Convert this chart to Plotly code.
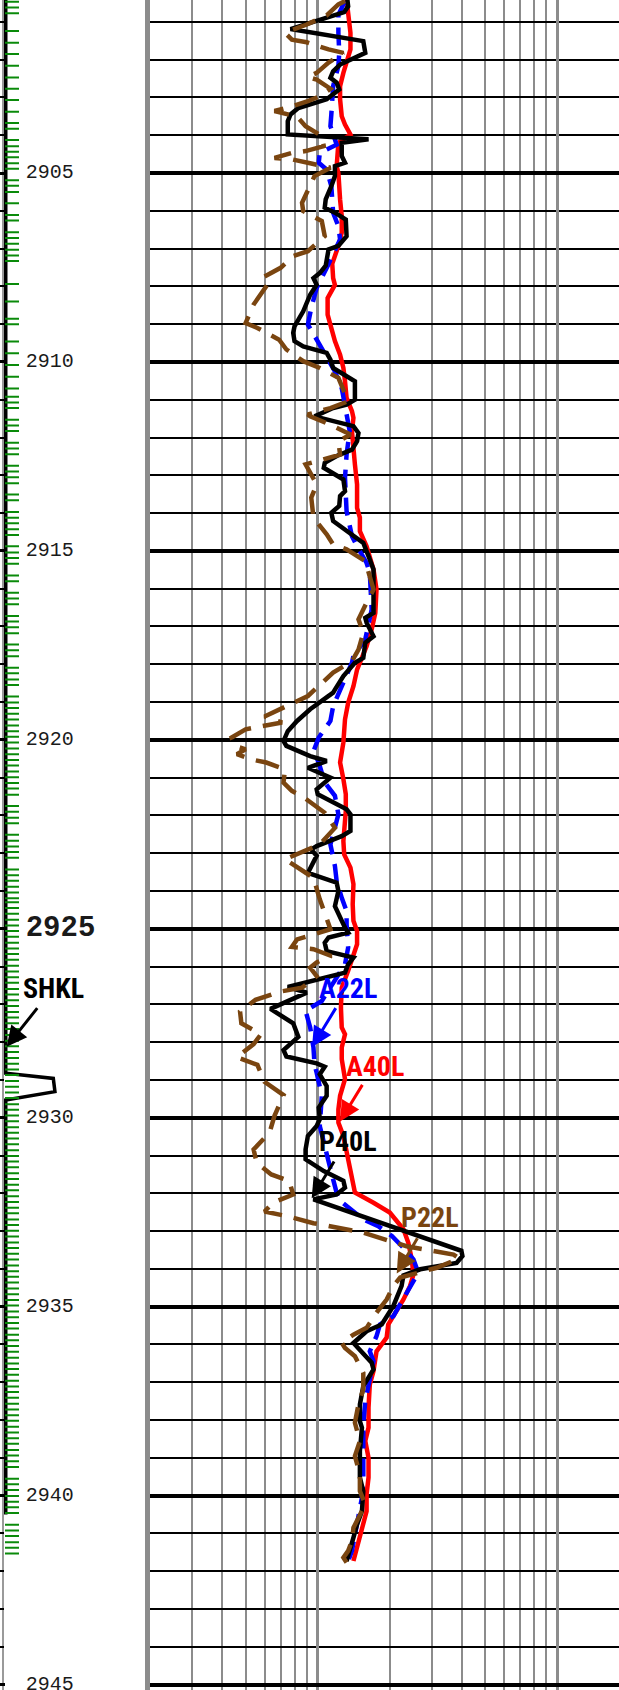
import math
import plotly.graph_objects as go

# ---------------- log curves (depth in m, resistivity in ohm.m) ----------------
a40l_depth = [2900.41, 2900.76, 2901.29, 2901.73, 2902.04, 2902.35, 2902.70, 2903.05, 2903.50, 2903.72,
              2903.98, 2904.20, 2904.82, 2905.00, 2905.70, 2906.14, 2906.58, 2906.93, 2907.40, 2907.78,
              2907.96, 2908.31, 2908.75, 2909.10, 2909.45, 2909.81, 2910.16, 2910.51, 2910.95, 2911.30,
              2911.48, 2911.83, 2912.36, 2912.71, 2913.24, 2913.86, 2914.12, 2914.48, 2914.88, 2915.49,
              2916.02, 2916.64, 2917.08, 2917.52, 2918.14, 2918.58, 2919.02, 2919.46, 2920.07, 2920.60,
              2921.04, 2921.44, 2921.89, 2922.33, 2922.68, 2923.03, 2923.38, 2923.82, 2924.35, 2924.79,
              2925.06, 2925.41, 2925.85, 2926.11, 2926.56, 2927.08, 2927.61, 2927.79, 2928.14, 2928.45,
              2928.98, 2929.42, 2929.78, 2930.13, 2930.48, 2930.92, 2931.37, 2931.98, 2932.25, 2932.51,
              2932.95, 2933.31, 2933.75, 2934.15, 2934.45, 2934.81, 2935.25, 2935.47, 2935.82, 2936.18,
              2936.70, 2937.06, 2937.67, 2938.20, 2938.55, 2939.00, 2939.52, 2939.96, 2940.41, 2940.76,
              2941.11, 2941.46, 2941.73]
a40l_val = [1.32, 1.34, 1.37, 1.37, 1.32, 1.28, 1.24, 1.24, 1.26, 1.30,
            1.37, 1.22, 1.20, 1.22, 1.24, 1.26, 1.26, 1.22, 1.15, 1.16,
            1.18, 1.10, 1.10, 1.14, 1.18, 1.24, 1.28, 1.30, 1.32, 1.39,
            1.41, 1.39, 1.41, 1.43, 1.46, 1.46, 1.50, 1.50, 1.60, 1.71,
            1.76, 1.74, 1.68, 1.60, 1.46, 1.41, 1.34, 1.30, 1.28, 1.24,
            1.28, 1.31, 1.31, 1.30, 1.28, 1.29, 1.37, 1.41, 1.40, 1.41,
            1.46, 1.46, 1.39, 1.34, 1.26, 1.25, 1.26, 1.30, 1.26, 1.26,
            1.30, 1.24, 1.22, 1.22, 1.28, 1.32, 1.37, 1.43, 1.71, 2.00,
            2.28, 2.39, 2.47, 2.51, 2.43, 2.28, 2.07, 1.97, 1.94, 1.76,
            1.71, 1.65, 1.63, 1.63, 1.58, 1.63, 1.63, 1.60, 1.60, 1.55,
            1.50, 1.46, 1.41]

a22l_depth = [2900.45, 2900.81, 2901.29, 2901.82, 2902.17, 2902.70, 2903.45, 2903.76, 2904.25, 2904.47,
              2904.73, 2904.91, 2905.35, 2906.05, 2906.41, 2906.76, 2907.46, 2907.78, 2908.04, 2908.57,
              2909.01, 2909.50, 2909.89, 2910.25, 2910.69, 2911.48, 2911.83, 2912.45, 2913.07, 2913.95,
              2914.39, 2914.61, 2914.88, 2915.32, 2915.58, 2916.55, 2917.34, 2917.78, 2917.96, 2918.67,
              2919.11, 2919.50, 2919.94, 2920.30, 2920.60, 2921.13, 2921.48, 2921.97, 2922.50, 2922.77,
              2923.34, 2923.74, 2924.18, 2924.53, 2924.88, 2925.50, 2925.94, 2926.30, 2926.91, 2927.17,
              2927.61, 2928.14, 2928.59, 2928.81, 2929.20, 2929.42, 2930.22, 2931.01, 2931.45, 2932.16,
              2932.38, 2932.69, 2932.87, 2933.13, 2933.48, 2933.75, 2934.10, 2934.63, 2935.25, 2935.47,
              2935.78, 2936.18, 2936.44, 2937.50, 2938.11, 2939.17, 2939.52, 2940.05, 2940.76, 2941.46,
              2941.73]
a22l_val = [1.30, 1.22, 1.22, 1.23, 1.22, 1.16, 1.14, 1.13, 1.20, 1.02,
            1.01, 1.09, 1.14, 1.16, 1.22, 1.24, 1.10, 1.04, 0.99, 0.94,
            0.91, 1.01, 1.09, 1.18, 1.26, 1.32, 1.36, 1.32, 1.30, 1.32,
            1.37, 1.39, 1.46, 1.60, 1.65, 1.68, 1.58, 1.41, 1.39, 1.24,
            1.16, 1.13, 1.01, 0.96, 1.01, 1.07, 1.18, 1.22, 1.16, 1.13,
            1.18, 1.20, 1.26, 1.32, 1.32, 1.34, 1.30, 1.20, 1.04, 0.89,
            0.93, 0.96, 0.97, 0.99, 1.02, 1.04, 1.02, 1.09, 1.14, 1.22,
            1.34, 1.55, 1.79, 2.04, 2.31, 2.51, 2.63, 2.35, 2.07, 1.82,
            1.76, 1.65, 1.71, 1.58, 1.55, 1.55, 1.55, 1.53, 1.46, 1.39,
            1.34]

p40l_depth = [2900.41, 2900.59, 2900.74, 2901.19, 2901.51, 2901.82, 2902.13, 2902.31, 2902.48, 2902.61,
              2902.79, 2903.05, 2903.28, 2903.45, 2903.63, 2903.98, 2904.11, 2904.20, 2904.55, 2904.73,
              2904.82, 2905.08, 2905.35, 2905.70, 2905.92, 2906.05, 2906.23, 2906.67, 2906.93, 2907.02,
              2907.45, 2907.65, 2907.78, 2907.96, 2908.22, 2908.66, 2909.06, 2909.23, 2909.45, 2909.59,
              2909.76, 2909.94, 2910.16, 2910.51, 2911.00, 2911.13, 2911.22, 2911.44, 2911.70, 2911.88,
              2912.10, 2912.32, 2912.49, 2912.67, 2912.80, 2913.11, 2913.42, 2913.55, 2913.81, 2913.99,
              2914.21, 2914.48, 2914.79, 2915.14, 2915.49, 2916.64, 2916.77, 2916.90, 2917.26, 2917.43,
              2917.83, 2917.96, 2918.31, 2918.67, 2918.75, 2919.19, 2919.50, 2919.77, 2920.03, 2920.16,
              2920.43, 2920.56, 2920.74, 2921.00, 2921.31, 2921.44, 2921.84, 2921.97, 2922.41, 2922.55,
              2922.81, 2922.90, 2923.07, 2923.52, 2923.60, 2923.78, 2924.00, 2924.40, 2924.97, 2925.10,
              2925.23, 2925.37, 2925.59, 2925.76, 2925.94, 2926.16, 2926.54, 2926.69, 2927.12, 2927.50,
              2927.86, 2928.21, 2928.38, 2928.56, 2928.65, 2928.85, 2929.16, 2929.42, 2929.73, 2930.04,
              2930.22, 2930.48, 2930.84, 2931.10, 2931.41, 2931.67, 2931.85, 2932.03, 2932.16, 2933.52,
              2933.66, 2933.84, 2934.01, 2934.17, 2934.45, 2934.98, 2935.47, 2935.65, 2935.96, 2936.22,
              2936.48, 2936.66, 2936.88, 2937.10, 2937.59, 2938.03, 2938.20, 2938.82, 2939.52, 2939.88,
              2940.41, 2940.76, 2941.11, 2941.55, 2941.73]
p40l_val = [1.33, 1.34, 1.29, 0.77, 1.55, 1.58, 1.24, 1.16, 1.13, 1.20,
            1.23, 1.09, 0.83, 0.77, 0.75, 0.75, 1.63, 1.26, 1.26, 1.30,
            1.18, 1.18, 1.14, 1.08, 1.07, 1.18, 1.31, 1.32, 1.22, 1.11,
            1.08, 1.02, 0.96, 0.99, 0.93, 0.87, 0.80, 0.79, 0.80, 0.87,
            1.09, 1.13, 1.16, 1.43, 1.43, 1.32, 1.16, 0.97, 1.41, 1.48,
            1.46, 1.39, 1.20, 1.07, 1.06, 1.28, 1.30, 1.24, 1.23, 1.14,
            1.16, 1.33, 1.55, 1.63, 1.71, 1.71, 1.58, 1.60, 1.71, 1.58,
            1.55, 1.43, 1.28, 1.18, 1.16, 0.93, 0.82, 0.75, 0.72, 0.74,
            0.93, 1.09, 0.91, 1.13, 0.99, 1.00, 1.32, 1.37, 1.37, 1.26,
            0.99, 0.94, 0.99, 0.91, 0.99, 1.20, 1.22, 1.18, 1.30, 1.34,
            1.11, 1.07, 1.09, 1.41, 1.34, 1.30, 0.75, 0.90, 0.635, 0.79,
            0.83, 0.72, 0.74, 0.99, 1.07, 1.02, 1.09, 1.09, 1.01, 1.02,
            0.99, 0.91, 0.89, 0.89, 1.06, 1.28, 1.30, 1.20, 0.96, 3.98,
            4.02, 3.80, 2.68, 2.28, 2.24, 2.07, 1.85, 1.60, 1.41, 1.55,
            1.68, 1.71, 1.63, 1.55, 1.50, 1.50, 1.53, 1.50, 1.50, 1.55,
            1.53, 1.46, 1.41, 1.34, 1.32]

p22l_depth = [2900.45, 2900.54, 2900.83, 2901.07, 2901.29, 2901.47, 2901.54, 2901.73, 2901.82, 2902.08,
              2902.35, 2902.46, 2902.53, 2902.77, 2902.97, 2903.10, 2903.28, 2903.36, 2903.51, 2903.76,
              2904.02, 2904.29, 2904.42, 2904.47, 2904.60, 2904.64, 2904.75, 2904.86, 2905.08, 2905.35,
              2905.79, 2906.01, 2906.27, 2906.67, 2907.07, 2907.20, 2907.51, 2907.74, 2907.87, 2908.13,
              2908.48, 2908.97, 2909.10, 2909.41, 2909.67, 2909.98, 2910.16, 2910.42, 2910.73, 2911.04,
              2911.22, 2911.39, 2911.44, 2911.66, 2911.92, 2912.10, 2912.45, 2912.61, 2912.71, 2913.24,
              2913.59, 2914.12, 2914.56, 2914.83, 2914.96, 2915.27, 2915.58, 2916.02, 2916.37, 2916.81,
              2917.17, 2917.61, 2917.92, 2918.22, 2918.84, 2919.26, 2919.38, 2919.54, 2919.72, 2919.94,
              2920.16, 2920.25, 2920.38, 2920.52, 2920.60, 2920.78, 2921.13, 2921.35, 2921.49, 2921.93,
              2922.33, 2922.77, 2923.16, 2923.65, 2924.22, 2925.01, 2925.28, 2925.48, 2925.54, 2925.72,
              2925.89, 2926.03, 2926.25, 2926.56, 2926.66, 2926.88, 2927.19, 2927.50, 2927.79, 2928.05,
              2928.40, 2928.60, 2929.05, 2929.40, 2929.95, 2930.39, 2930.84, 2931.19, 2931.50, 2931.67,
              2932.03, 2932.25, 2932.48, 2932.60, 2932.79, 2933.04, 2933.40, 2933.62, 2933.72, 2933.97,
              2934.10, 2934.23, 2934.45, 2934.81, 2935.16, 2935.45, 2935.56, 2935.74, 2935.96, 2936.09,
              2936.31, 2936.75, 2937.19, 2937.59, 2938.07, 2938.56, 2938.95, 2939.44, 2939.88, 2940.23,
              2940.49, 2940.85, 2941.20, 2941.46, 2941.64, 2941.77]
p22l_val = [1.30, 1.22, 1.09, 0.90, 0.73, 0.78, 0.90, 1.11, 1.28, 1.11,
            0.99, 0.91, 0.99, 1.13, 1.02, 0.91, 0.74, 0.66, 0.82, 0.89,
            1.04, 1.06, 0.89, 0.78, 0.66, 0.78, 0.94, 1.13, 0.97, 0.93,
            0.86, 0.87, 1.04, 1.07, 0.91, 0.79, 0.70, 0.60, 0.63, 0.59,
            0.54, 0.50, 0.56, 0.69, 0.74, 0.87, 1.02, 1.22, 1.28, 1.34,
            1.13, 0.91, 0.93, 1.13, 1.37, 1.22, 1.24, 1.02, 0.89, 0.99,
            0.94, 0.96, 1.09, 1.16, 1.32, 1.58, 1.63, 1.71, 1.60, 1.48,
            1.55, 1.48, 1.39, 1.16, 0.91, 0.67, 0.60, 0.71, 0.50, 0.437,
            0.45, 0.50, 0.46, 0.53, 0.61, 0.73, 0.72, 0.78, 0.86, 1.07,
            1.18, 1.02, 0.73, 0.96, 1.02, 1.13, 0.82, 0.78, 0.96, 1.14,
            0.99, 0.93, 0.99, 0.86, 0.70, 0.55, 0.474, 0.48, 0.58, 0.54,
            0.46, 0.56, 0.60, 0.72, 0.66, 0.63, 0.54, 0.556, 0.64, 0.76,
            0.79, 0.65, 0.60, 0.74, 0.96, 1.55, 2.35, 3.69, 3.90, 3.14,
            2.59, 2.21, 2.07, 1.94, 1.76, 1.65, 1.60, 1.41, 1.26, 1.30,
            1.43, 1.55, 1.55, 1.48, 1.43, 1.50, 1.43, 1.50, 1.50, 1.58,
            1.50, 1.41, 1.39, 1.34, 1.28, 1.32]

# ---------------- depth track ----------------
shkl_depth = [2900.42, 2928.82, 2928.96, 2929.31, 2929.53, 2940.50]
shkl_val = [1.7, 1.7, 33.4, 34.5, 1.7, 1.7]

flag_depth = [2900.47, 2900.62, 2900.77, 2901.24, 2901.55, 2901.85, 2902.16, 2902.47, 2902.77, 2903.07,
              2903.38, 2903.68, 2903.83, 2904.13, 2904.29, 2904.44, 2904.58, 2904.74, 2904.89, 2905.19,
              2905.34, 2905.50, 2905.80, 2906.11, 2906.26, 2906.57, 2906.72, 2906.87, 2907.03, 2907.18,
              2907.33, 2907.94, 2908.40, 2908.86, 2909.00, 2909.46, 2909.77, 2910.08, 2910.39, 2910.70,
              2910.92, 2911.07, 2911.22, 2911.53, 2911.68, 2911.83, 2912.14, 2912.29, 2912.44, 2912.75,
              2912.90, 2913.05, 2913.21, 2913.51, 2913.66, 2913.97, 2914.12, 2914.27, 2914.43, 2914.58,
              2914.88, 2915.04, 2915.19, 2915.34, 2915.65, 2915.80, 2916.11, 2916.26, 2916.41, 2916.72,
              2916.87, 2917.02, 2917.18, 2917.48, 2917.63, 2917.79, 2918.09, 2918.24, 2918.40, 2918.55,
              2918.85, 2919.01, 2919.16, 2919.31, 2919.46, 2919.62, 2919.77, 2919.92, 2920.07, 2920.23,
              2920.38, 2920.53, 2920.68, 2920.84, 2920.99, 2921.14, 2921.29, 2921.45, 2921.75, 2921.90,
              2922.06, 2922.21, 2922.51, 2922.67, 2922.82, 2922.97, 2923.12, 2923.43, 2923.58, 2923.73,
              2923.89, 2924.04, 2924.19,
              2924.30, 2924.45, 2924.60, 2924.76, 2924.91, 2925.06, 2925.21, 2925.37, 2925.52, 2925.67,
              2925.82, 2925.98, 2926.13, 2926.28, 2926.43, 2926.59, 2926.74, 2926.89, 2927.04, 2927.20,
              2927.35, 2927.50, 2927.65, 2927.81, 2927.96, 2928.11, 2928.26, 2928.42, 2928.57, 2928.72,
              2928.87, 2929.03, 2929.18, 2929.33, 2929.48, 2929.64, 2929.79, 2929.94, 2930.09, 2930.25,
              2930.40, 2930.55, 2930.70, 2930.86, 2931.01, 2931.16, 2931.31, 2931.47, 2931.62, 2931.77,
              2931.92, 2932.08, 2932.23, 2932.38, 2932.53, 2932.69, 2932.84, 2932.99, 2933.14, 2933.30,
              2933.45, 2933.60, 2933.75, 2933.91, 2934.06, 2934.21, 2934.36, 2934.52, 2934.67, 2934.82,
              2934.97, 2935.13, 2935.28, 2935.43, 2935.58, 2935.74, 2935.89, 2936.04, 2936.19, 2936.35,
              2936.50, 2936.65, 2936.80, 2936.96, 2937.11, 2937.26, 2937.41, 2937.57, 2937.72, 2937.87,
              2938.02, 2938.18, 2938.33, 2938.48, 2938.63, 2938.79, 2938.94, 2939.09, 2939.24, 2939.55,
              2939.70, 2939.85, 2940.01, 2940.16, 2940.31, 2940.46, 2940.77, 2940.92, 2941.07, 2941.23,
              2941.38, 2941.53]

depth_labels = [2905, 2910, 2915, 2920, 2925, 2930, 2935, 2940, 2945]
highlight_label = 2925

major_grid = [1, 10]
minor_grid = [0.3, 0.4, 0.5, 0.6, 0.7, 0.8, 0.9, 2, 3, 4, 5, 6, 7, 8, 9, 20]

# ---------------- layout constants ----------------
W, H = 619, 1690
TOP_DEPTH, BOTTOM_DEPTH = 2900.422, 2945.143
SPLIT = 150.3 / W
X_LOG_RANGE = [math.log10(0.2), 1.2580]
X2_RANGE = [-2.133, 98.07]
FLAG_X = 5.87
LABEL_X = 15.0

GRID_GREY = "#8c8c8c"
BROWN = "#7a4510"
NARROW = "Liberation Sans Narrow, Arial Narrow, Roboto Condensed, sans-serif"
LW = 4.5

fig = go.Figure()

# depth track content
fig.add_trace(go.Scatter(x=shkl_val, y=shkl_depth, xaxis="x2", yaxis="y2", mode="lines",
                         line=dict(color="black", width=3.5), hoverinfo="skip", showlegend=False))
fig.add_trace(go.Scatter(x=[FLAG_X] * len(flag_depth), y=flag_depth, xaxis="x2", yaxis="y2",
                         mode="markers",
                         marker=dict(symbol="line-ew", size=10, line=dict(color="#0a8a0a", width=2)),
                         hoverinfo="skip", showlegend=False))
fig.add_trace(go.Scatter(
    x=[LABEL_X] * len(depth_labels), y=depth_labels, xaxis="x2", yaxis="y2",
    mode="text", textposition="middle right",
    text=[f"<b>{d}</b>" if d == highlight_label else str(d) for d in depth_labels],
    textfont=dict(family="Liberation Mono, DejaVu Sans Mono, monospace", color="#1a1a1a",
                  size=[29 if d == highlight_label else 20 for d in depth_labels]),
    hoverinfo="skip", showlegend=False))

# resistivity curves (bottom to top)
curves = [
    ("A40L", a40l_depth, a40l_val, dict(color="#ff0000", width=LW)),
    ("A22L", a22l_depth, a22l_val, dict(color="#0000ff", width=LW, dash="18px,10px")),
    ("P40L", p40l_depth, p40l_val, dict(color="black", width=LW)),
    ("P22L", p22l_depth, p22l_val, dict(color=BROWN, width=LW, dash="24px,12px")),
]
for name, d, v, ln in curves:
    fig.add_trace(go.Scatter(x=v, y=d, name=name, mode="lines", line=ln,
                             xaxis="x", yaxis="y", showlegend=False))

# curve labels with pointer arrows: (text, colour, label value, label depth, tail, head, axes)
labels = [
    ("SHKL", "black", 33.5, 2926.59, (23.5, 2927.06), (2.3, 2928.12), "2"),
    ("A22L", "#0000ff", 1.342, 2926.59, (1.200, 2927.06), (0.947, 2928.13), ""),
    ("A40L", "#ff0000", 1.735, 2928.65, (1.550, 2929.09), (1.239, 2930.10), ""),
    ("P40L", "black", 1.332, 2930.63, (1.181, 2931.12), (0.944, 2932.13), ""),
    ("P22L", BROWN, 2.944, 2932.65, (2.630, 2933.15), (2.138, 2934.12), ""),
]
annotations = []
for text, col, lx, ly, tail, head, ax_id in labels:
    is_log = ax_id == ""
    fx = (lambda x: math.log10(x)) if is_log else (lambda x: x)
    xr, yr = "x" + ax_id, "y" + ax_id
    annotations.append(dict(text=text, x=fx(lx), y=ly, xref=xr, yref=yr, showarrow=False,
                            font=dict(family=NARROW, size=28, color=col, weight="bold"),
                            xanchor="center", yanchor="middle"))
    annotations.append(dict(text="", x=fx(head[0]), y=head[1], ax=fx(tail[0]), ay=tail[1],
                            xref=xr, yref=yr, axref=xr, ayref=yr, showarrow=True,
                            arrowhead=2, arrowsize=1.35, arrowwidth=3, arrowcolor=col, standoff=0))

fig.update_layout(
    width=W, height=H, margin=dict(l=0, r=0, t=0, b=0),
    paper_bgcolor="white", plot_bgcolor="white", showlegend=False,
    annotations=annotations,
    xaxis=dict(type="log", domain=[SPLIT, 1], range=X_LOG_RANGE, anchor="y",
               tickmode="array", tickvals=major_grid, showticklabels=False, ticks="",
               showgrid=True, gridcolor=GRID_GREY, gridwidth=2.5, zeroline=False, showline=False,
               minor=dict(tickmode="array", tickvals=minor_grid, showgrid=True,
                          gridcolor=GRID_GREY, gridwidth=2, ticks="")),
    yaxis=dict(domain=[0, 1], range=[BOTTOM_DEPTH, TOP_DEPTH], anchor="x",
               tickmode="linear", tick0=2900, dtick=5, showticklabels=False, ticks="",
               showgrid=True, gridcolor="black", gridwidth=4, zeroline=False,
               showline=True, linecolor=GRID_GREY, linewidth=5,
               minor=dict(tickmode="linear", tick0=2900, dtick=1, showgrid=True,
                          gridcolor="black", gridwidth=2, ticks="")),
    xaxis2=dict(domain=[0, SPLIT], range=X2_RANGE, anchor="y2", showgrid=False,
                showticklabels=False, ticks="", zeroline=True, zerolinecolor="#9a9a9a",
                zerolinewidth=1.5, showline=False),
    yaxis2=dict(domain=[0, 1], range=[BOTTOM_DEPTH, TOP_DEPTH], anchor="x2",
                tickmode="linear", tick0=2900, dtick=5, showticklabels=False,
                ticks="inside", ticklen=5, tickwidth=3, tickcolor="black",
                showgrid=False, zeroline=False, showline=False,
                minor=dict(tickmode="linear", tick0=2900, dtick=1, ticks="inside",
                           ticklen=4, tickwidth=1.5, tickcolor="black")),
)

fig.write_html("out.html")
